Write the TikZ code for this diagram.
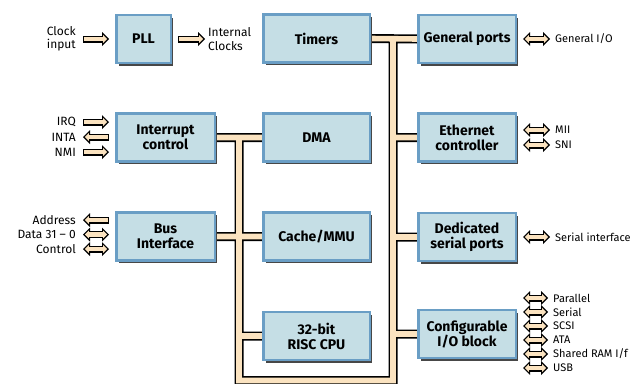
\documentclass[tikz,border=0pt]{standalone}
\usepackage{fontspec}
\setmainfont{Fira Sans}
\usepackage{tikz}
\usetikzlibrary{arrows.meta,shadows,backgrounds,positioning}
\definecolor{boxfill}{HTML}{C5DEE5}
\definecolor{boxline}{HTML}{6A9EC5}
\definecolor{shadowgray}{HTML}{474747}
\definecolor{busfill}{HTML}{FBE3C0}

\tikzset{
  SigHead/.tip={Triangle[length=7pt,width=14pt,line width=0pt]},
  SigCore/.tip={Triangle[length=3.9pt,width=7.8pt,line width=0pt]},
  blk/.style={draw=boxline, line width=2.5pt, fill=boxfill, align=center,
    drop shadow={shadow xshift=2.5pt, shadow yshift=-2.5pt, fill=shadowgray, opacity=1},
    minimum height=48pt, inner sep=0pt, font=\bfseries\fontsize{14}{15}\selectfont},
  lbl/.style={anchor=east, align=right, inner xsep=7pt, inner ysep=0pt,
    font=\fontsize{12}{13.5}\selectfont},
  rlbl/.style={anchor=west, align=left, inner xsep=5pt, inner ysep=0pt,
    font=\fontsize{11}{12}\selectfont},
  busout/.style={draw=black, line width=9pt},
  busin/.style={draw=busfill, line width=5.6pt},
  sigin/.style={draw=black, line width=7pt, shorten >=6pt, -SigHead,
    postaction={draw=busfill, line width=4.2pt, shorten >=7.9pt, shorten <=1.3pt, -SigCore}},
  sigout/.style={draw=black, line width=7pt, shorten >=6pt, SigHead-,
    postaction={draw=busfill, line width=4.2pt, shorten >=7.3pt, shorten <=1.9pt, SigCore-}},
  sigboth/.style={draw=black, line width=7pt, shorten >=6pt, SigHead-SigHead,
    postaction={draw=busfill, line width=4.2pt, shorten >=7.9pt, shorten <=1.9pt, SigCore-SigCore}},
}

\begin{document}
\begin{tikzpicture}[x=1pt, y=-1pt]
   \useasboundingbox (0,0) rectangle (644,383);
   % blocks
   \node (pll) [blk, minimum width=54.5pt] at (143.5,39) {PLL};
   \begin{scope}[every node/.style={blk, minimum width=98.5pt}]
    \node (intc) at (165.5,137.5) {Interrupt\\control};
    \node (bif) at (165.5,236.5) {Bus\\Interface};
   \end{scope}
   \begin{scope}[every node/.style={blk, minimum width=106.5pt}]
    \node (tim) at (316.5,38.5) {Timers};
    \node (dma) at (316.5,137.5) {DMA};
    \node (cache) at (316.5,236.5) {Cache/MMU};
    \node (cpu) at (316.5,336) {32-bit\\RISC CPU};
   \end{scope}
   \begin{scope}[every node/.style={blk, minimum width=97.5pt}]
    \node (gp) at (467,39) {General ports};
    \node (eth) at (467,137.5) {Ethernet\\controller};
    \node (dsp) at (467,237) {Dedicated\\serial ports};
    \node (cio) at (467,334) {Configurable\\I/O block};
   \end{scope}

   % internal bus
   \coordinate (lt) at (239,137.5);
   \coordinate (lb) at (239,380.5);
   \coordinate (rb) at (393,380.5);
   \coordinate (rt) at (393,39);
   \begin{scope}[on background layer]
    \foreach \s in {busout,busin}
     \draw[\s] (intc.east) -- (dma.west) (bif.east) -- (cache.west)
       (lt) -- (lb) -- (rb) -- (rt) (lt |- cpu.west) -- (cpu.west)
       (tim.east) -- (gp.west) (rt |- eth.west) -- (eth.west)
       (rt |- dsp.west) -- (dsp.west) (rt |- cio.west) -- (cio.west);
   \end{scope}

   % left side signals
   \node (clk) [lbl] at (83,39) {Clock\\input};
   \node (iclk) [rlbl, inner xsep=3pt, font=\fontsize{12}{13.5}\selectfont] at (205,39) {Internal\\Clocks};
   \node (irq) [lbl] at (83,122) {IRQ};
   \node (inta) [lbl] at (83,137) {INTA};
   \node (nmi) [lbl] at (83,152) {NMI};
   \node (addr) [lbl] at (83,220) {Address};
   \node (data) [lbl] at (83,234.5) {Data 31~--~0};
   \node (ctrl) [lbl] at (83,249) {Control};
   \draw[sigin] (clk.east) -- (pll.west);
   \draw[sigout] (iclk.west) -- (pll.east);
   \draw[sigin] (irq.east) -- (irq -| intc.west);
   \draw[sigout] (inta.east) -- (inta -| intc.west);
   \draw[sigin] (nmi.east) -- (nmi -| intc.west);
   \draw[sigout] (addr.east) -- (addr -| bif.west);
   \draw[sigboth] (data.east) -- (data -| bif.west);
   \draw[sigboth] (ctrl.east) -- (ctrl -| bif.west);

   % right side signals
   \node (gio) [rlbl] at (550,39) {General I/O};
   \node (mii) [rlbl] at (550,130) {MII};
   \node (sni) [rlbl] at (550,145) {SNI};
   \node (ser) [rlbl] at (550,237) {Serial interface};
   \draw[sigboth] (gio.west) -- (gio -| gp.east);
   \draw[sigboth] (mii.west) -- (mii -| eth.east);
   \draw[sigboth] (sni.west) -- (sni -| eth.east);
   \draw[sigboth] (ser.west) -- (ser -| dsp.east);
   \foreach \t/\y [count=\i] in {Parallel/298, Serial/312, SCSI/326, ATA/340, {Shared RAM I/f}/354, USB/368} {
     \node (io\i) [rlbl] at (548,\y) {\t};
     \draw[sigboth] (io\i.west) -- (io\i -| cio.east);
   }
\end{tikzpicture}
\end{document}
